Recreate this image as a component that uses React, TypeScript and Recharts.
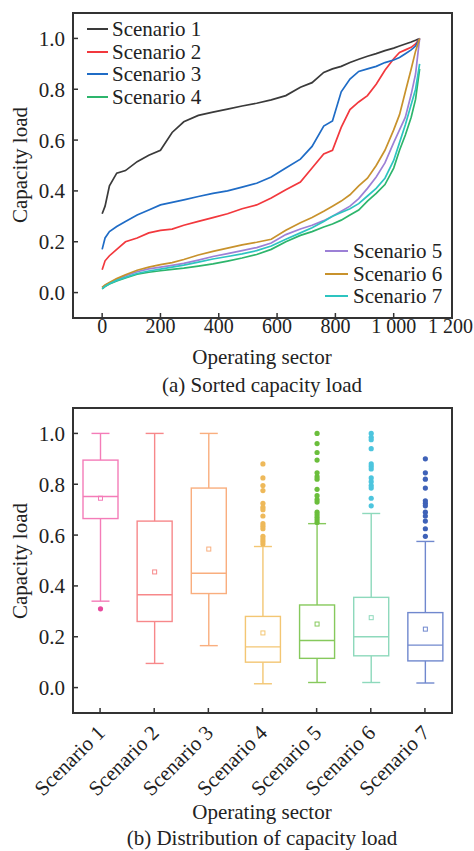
import React from 'react';
import { LineChart, Line, XAxis, YAxis, ComposedChart, Bar } from 'recharts';

// Sorted capacity load
const sectors = [0, 10, 25, 50, 80, 120, 160, 200, 240, 280, 330, 380, 430, 480, 530, 580, 630, 680, 720, 760, 790, 820, 850, 880, 910, 940, 970, 1000, 1020, 1040, 1060, 1075, 1089];
const scenario1 = [0.31, 0.34, 0.42, 0.47, 0.48, 0.515, 0.54, 0.56, 0.63, 0.672, 0.697, 0.71, 0.722, 0.734, 0.745, 0.758, 0.775, 0.808, 0.826, 0.866, 0.88, 0.89, 0.905, 0.918, 0.93, 0.94, 0.952, 0.962, 0.97, 0.978, 0.986, 0.993, 1.0];
const scenario2 = [0.09, 0.125, 0.145, 0.17, 0.2, 0.215, 0.235, 0.245, 0.25, 0.265, 0.28, 0.295, 0.31, 0.33, 0.345, 0.372, 0.405, 0.435, 0.49, 0.545, 0.56, 0.65, 0.72, 0.75, 0.775, 0.82, 0.875, 0.92, 0.945, 0.955, 0.965, 0.978, 1.0];
const scenario3 = [0.17, 0.215, 0.24, 0.26, 0.28, 0.305, 0.325, 0.345, 0.355, 0.365, 0.378, 0.39, 0.4, 0.415, 0.43, 0.455, 0.49, 0.525, 0.575, 0.655, 0.675, 0.79, 0.84, 0.87, 0.88, 0.89, 0.905, 0.915, 0.925, 0.94, 0.955, 0.97, 1.0];
const scenario4 = [0.015, 0.024, 0.034, 0.046, 0.058, 0.072, 0.08, 0.086, 0.091, 0.096, 0.104, 0.113, 0.124, 0.136, 0.15, 0.17, 0.2, 0.225, 0.24, 0.258, 0.27, 0.285, 0.305, 0.325, 0.36, 0.39, 0.425, 0.49, 0.56, 0.62, 0.69, 0.76, 0.88];
const scenario5 = [0.02, 0.028, 0.038, 0.052, 0.066, 0.082, 0.093, 0.1, 0.107, 0.115, 0.128, 0.142, 0.153, 0.165, 0.177, 0.195, 0.228, 0.25, 0.265, 0.283, 0.3, 0.32, 0.34, 0.37, 0.41, 0.455, 0.51, 0.59, 0.64, 0.69, 0.78, 0.86, 1.0];
const scenario6 = [0.02, 0.03, 0.04, 0.055, 0.07, 0.088, 0.1, 0.11, 0.118, 0.13, 0.148, 0.162, 0.175, 0.188, 0.198, 0.21, 0.245, 0.275, 0.295, 0.32, 0.34, 0.36, 0.385, 0.42, 0.45, 0.5, 0.56, 0.64, 0.7, 0.79, 0.88, 0.95, 1.0];
const scenario7 = [0.015, 0.025, 0.035, 0.048, 0.06, 0.075, 0.085, 0.092, 0.1, 0.108, 0.12, 0.132, 0.142, 0.152, 0.165, 0.183, 0.21, 0.235, 0.255, 0.28, 0.3, 0.315, 0.33, 0.35, 0.38, 0.41, 0.45, 0.52, 0.59, 0.66, 0.74, 0.8, 0.9];

const scenarioNames = ['Scenario 1', 'Scenario 2', 'Scenario 3', 'Scenario 4', 'Scenario 5', 'Scenario 6', 'Scenario 7'];
const lineColors = ['#3a3a3a', '#f2383d', '#1f6cc6', '#2db56c', '#9c80d6', '#c8922c', '#2dc4c0'];

// Box plot statistics
const boxMin = [0.34, 0.095, 0.165, 0.015, 0.02, 0.02, 0.018];
const boxQ1 = [0.665, 0.26, 0.37, 0.1, 0.115, 0.125, 0.105];
const boxMedian = [0.752, 0.365, 0.45, 0.16, 0.185, 0.2, 0.167];
const boxMean = [0.745, 0.455, 0.545, 0.215, 0.25, 0.275, 0.23];
const boxQ3 = [0.895, 0.655, 0.785, 0.28, 0.325, 0.355, 0.295];
const boxMax = [1.0, 1.0, 1.0, 0.555, 0.645, 0.685, 0.575];
const outliers = [
  [0.31],
  [],
  [],
  [0.88, 0.825, 0.795, 0.775, 0.725, 0.71, 0.7, 0.675, 0.645, 0.635, 0.625, 0.595, 0.585, 0.575, 0.565],
  [1.0, 0.96, 0.925, 0.895, 0.845, 0.83, 0.82, 0.78, 0.755, 0.74, 0.73, 0.69, 0.68, 0.67, 0.66, 0.65],
  [1.0, 0.985, 0.975, 0.94, 0.88, 0.87, 0.86, 0.825, 0.81, 0.795, 0.785, 0.745, 0.715],
  [0.9, 0.845, 0.82, 0.785, 0.735, 0.725, 0.715, 0.69, 0.675, 0.655, 0.625, 0.595],
];
const boxColors = ['#f47cb8', '#f7888a', '#f9ae7e', '#f3c673', '#86c95c', '#8ed9bc', '#7088ce'];
const outlierColors = ['#e84a9e', '#f7888a', '#f9ae7e', '#eeb95a', '#6bbe3c', '#4dc5de', '#3f62b8'];

const yTicks = [0, 0.2, 0.4, 0.6, 0.8, 1.0];
const xTicks = [0, 200, 400, 600, 800, 1000, 1200];

const FONT = 'Liberation Serif, Times New Roman, serif';
const INK = '#222';
const FS = 21;

const lineData = sectors.map((s, i) => ({
  sector: s,
  s1: scenario1[i],
  s2: scenario2[i],
  s3: scenario3[i],
  s4: scenario4[i],
  s5: scenario5[i],
  s6: scenario6[i],
  s7: scenario7[i],
}));

const boxData = scenarioNames.map((name, i) => {
  const all = [boxMin[i], boxMax[i], ...outliers[i]];
  const lo = Math.min(...all);
  const hi = Math.max(...all);
  return {
    name,
    range: [lo, hi],
    min: boxMin[i],
    q1: boxQ1[i],
    median: boxMedian[i],
    mean: boxMean[i],
    q3: boxQ3[i],
    max: boxMax[i],
    outliers: outliers[i],
    color: boxColors[i],
    outlierColor: outlierColors[i],
  };
});

const formatSector = (v: number) =>
  v >= 1000 ? `${Math.floor(v / 1000)} ${String(v % 1000).padStart(3, '0')}` : String(v);

// the bar spans the whole range of the box, positions inside it follow the same linear scale
const BoxShape = (props: any) => {
  const { x, y, width, height, payload } = props;
  const top = Math.min(y, y + height);
  const h = Math.abs(height);
  const [lo, hi] = payload.range;
  const py = (v: number) => top + ((hi - v) / (hi - lo)) * h;
  const cx = x + width / 2;
  const cap = 9;
  const c = payload.color;
  return (
    <g>
      <line x1={cx} x2={cx} y1={py(payload.max)} y2={py(payload.q3)} stroke={c} strokeWidth={1.4} />
      <line x1={cx} x2={cx} y1={py(payload.q1)} y2={py(payload.min)} stroke={c} strokeWidth={1.4} />
      <line x1={cx - cap} x2={cx + cap} y1={py(payload.max)} y2={py(payload.max)} stroke={c} strokeWidth={1.4} />
      <line x1={cx - cap} x2={cx + cap} y1={py(payload.min)} y2={py(payload.min)} stroke={c} strokeWidth={1.4} />
      <rect x={x} y={py(payload.q3)} width={width} height={py(payload.q1) - py(payload.q3)} fill="none" stroke={c} strokeWidth={1.4} />
      <line x1={x} x2={x + width} y1={py(payload.median)} y2={py(payload.median)} stroke={c} strokeWidth={1.4} />
      <rect x={cx - 2} y={py(payload.mean) - 2} width={4} height={4} fill="none" stroke={c} strokeWidth={1} />
      {payload.outliers.map((v: number, k: number) => (
        <circle key={k} cx={cx} cy={py(v)} r={2.6} fill={payload.outlierColor} />
      ))}
    </g>
  );
};

// last label of the sector axis is kept inside the page
const SectorTick = (props: any) => {
  const { x, y, payload } = props;
  const last = payload.value === xTicks[xTicks.length - 1];
  return (
    <text x={last ? 473 : x} y={y} dy="0.71em" textAnchor={last ? 'end' : 'middle'} fill={INK} fontSize={20} fontFamily={FONT}>
      {formatSector(payload.value)}
    </text>
  );
};

const ScenarioTick = (props: any) => {
  const { x, y, payload } = props;
  const ax = x + 6;
  const ay = y + 20;
  return (
    <text x={ax} y={ay} textAnchor="end" transform={`rotate(-45, ${ax}, ${ay})`} fill={INK} fontSize={FS} fontFamily={FONT}>
      {payload.value}
    </text>
  );
};

const LegendBox = ({ left, top, names, colors, lineWidth, gap }: any) => (
  <div style={{ position: 'absolute', left, top }}>
    {names.map((n: string, i: number) => (
      <div key={n} style={{ display: 'flex', alignItems: 'center', height: 22.5 }}>
        <span style={{ display: 'inline-block', width: lineWidth, height: 2, background: colors[i] }} />
        <span style={{ marginLeft: gap, fontSize: FS, lineHeight: '22px', color: INK }}>{n}</span>
      </div>
    ))}
  </div>
);

const Caption = ({ cx, cy, text, rotate }: any) => (
  <div
    style={{
      position: 'absolute',
      left: cx,
      top: cy,
      transform: `translate(-50%, -50%)${rotate ? ' rotate(-90deg)' : ''}`,
      whiteSpace: 'nowrap',
      fontSize: FS,
      lineHeight: '22px',
      color: INK,
    }}
  >
    {text}
  </div>
);

const frameStyle = (top: number): React.CSSProperties => ({
  position: 'absolute',
  left: 72,
  top,
  width: 381,
  height: 307,
  border: '2px solid #333',
  boxSizing: 'border-box',
});

const tickStyle = { fill: INK, fontSize: FS, fontFamily: FONT };
const tickLineStyle = { stroke: '#333', strokeWidth: 1.5 };

export default function App() {
  return (
    <div style={{ position: 'absolute', left: 0, top: 0, width: 474, height: 851, background: '#fff', fontFamily: FONT }}>
      <div style={{ position: 'absolute', left: 0, top: 0 }}>
        <LineChart width={474} height={400} data={lineData} margin={{ top: 13, right: 22, bottom: 52, left: 33 }}>
          <XAxis
            dataKey="sector"
            type="number"
            domain={[-100, 1200]}
            ticks={xTicks}
            interval={0}
            axisLine={false}
            tickSize={-5}
            tickMargin={6}
            tickLine={tickLineStyle}
            tick={<SectorTick />}
            height={30}
            allowDataOverflow
          />
          <YAxis
            type="number"
            domain={[-0.1, 1.1]}
            ticks={yTicks}
            interval={0}
            tickFormatter={(v: number) => v.toFixed(1)}
            axisLine={false}
            tickSize={-5}
            tickMargin={13}
            tickLine={tickLineStyle}
            tick={tickStyle}
            width={40}
            allowDataOverflow
          />
          {['s1', 's2', 's3', 's4', 's5', 's6', 's7'].map((k, i) => (
            <Line
              key={k}
              dataKey={k}
              type="linear"
              stroke={lineColors[i]}
              strokeWidth={1.7}
              dot={false}
              isAnimationActive={false}
            />
          ))}
        </LineChart>
      </div>
      <div style={frameStyle(12)} />
      <LegendBox left={87} top={18} names={scenarioNames.slice(0, 4)} colors={lineColors.slice(0, 4)} lineWidth={21} gap={4} />
      <LegendBox left={325} top={240} names={scenarioNames.slice(4)} colors={lineColors.slice(4)} lineWidth={23} gap={5} />
      <Caption cx={20} cy={165} text="Capacity load" rotate />
      <Caption cx={262} cy={357} text="Operating sector" />
      <Caption cx={262} cy={385} text="(a) Sorted capacity load" />

      <div style={{ position: 'absolute', left: 0, top: 400 }}>
        <ComposedChart width={474} height={451} data={boxData} margin={{ top: 8, right: 22, bottom: 78, left: 33 }}>
          <XAxis
            dataKey="name"
            type="category"
            interval={0}
            axisLine={false}
            tickSize={-5}
            tickMargin={6}
            tickLine={tickLineStyle}
            tick={<ScenarioTick />}
            height={60}
          />
          <YAxis
            type="number"
            domain={[-0.1, 1.1]}
            ticks={yTicks}
            interval={0}
            tickFormatter={(v: number) => v.toFixed(1)}
            axisLine={false}
            tickSize={-5}
            tickMargin={13}
            tickLine={tickLineStyle}
            tick={tickStyle}
            width={40}
            allowDataOverflow
          />
          <Bar dataKey="range" barSize={35} shape={<BoxShape />} isAnimationActive={false} />
        </ComposedChart>
      </div>
      <div style={frameStyle(407)} />
      <Caption cx={20} cy={561} text="Capacity load" rotate />
      <Caption cx={262} cy={812} text="Operating sector" />
      <Caption cx={262} cy={838} text="(b) Distribution of capacity load" />
    </div>
  );
}
